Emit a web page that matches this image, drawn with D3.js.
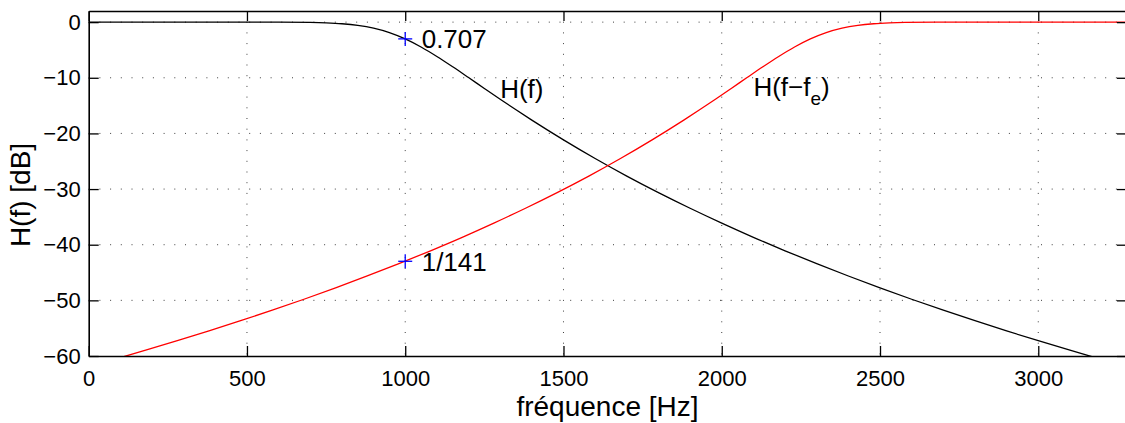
<!DOCTYPE html>
<html>
<head>
<meta charset="utf-8">
<script src="https://cdn.jsdelivr.net/npm/d3@7"></script>
<style>
html,body{margin:0;padding:0;background:#fff;overflow:hidden;}
svg{display:block;font-family:"Liberation Sans",Arial,Helvetica,sans-serif;}
</style>
</head>
<body>
<svg id="chart" width="1125" height="423"></svg>
<script>
// ---- data ----
const blackFreq = [0,100,200,300,400,500,600,700,750,800,850,900,950,1000,1050,1100,1150,1200,1250,1300,1350,1400,1450,1500,1600,1700,1800,1900,2000,2100,2200,2300,2400,2500,2600,2700,2800,2900,3000,3100,3200];
const blackDb = [0,0,0,0,0,-0.001,-0.009,-0.059,-0.135,-0.288,-0.577,-1.079,-1.876,-3.010,-4.466,-6.168,-8.028,-9.963,-11.92,-13.86,-15.76,-17.61,-19.41,-21.16,-24.51,-27.67,-30.64,-33.45,-36.12,-38.67,-41.09,-43.41,-45.62,-47.75,-49.80,-51.76,-53.66,-55.49,-57.25,-58.96,-60.62];
const redFreq = [80,180,280,380,480,580,680,780,880,980,1080,1180,1280,1380,1480,1580,1680,1780,1830,1880,1930,1980,2030,2080,2130,2180,2230,2280,2330,2380,2430,2480,2530,2580,2680,2780,2880,2980,3080,3180,3280];
const redDb = [-60.62,-58.96,-57.25,-55.49,-53.66,-51.76,-49.80,-47.75,-45.62,-43.41,-41.09,-38.67,-36.12,-33.45,-30.64,-27.67,-24.51,-21.16,-19.41,-17.61,-15.76,-13.86,-11.92,-9.963,-8.028,-6.168,-4.466,-3.010,-1.876,-1.079,-0.577,-0.288,-0.135,-0.059,-0.009,-0.001,0,0,0,0,0];
const xTicks = [0,500,1000,1500,2000,2500,3000];
const yTicks = [0,-10,-20,-30,-40,-50,-60];
const markerPoints = [[1000,-3.01],[1000,-42.98]];
const markerLabels = ["0.707","1/141"];
const curveLabels = [{f:1300,db:-12,t:"H(f)",sub:null},{f:2100,db:-11.6,t:"H(f\u2212f",sub:"e"}];
const xLabel = "fréquence [Hz]";
const yLabel = "H(f) [dB]";
const xDomain = [0,3280];
const yDomain = [-60,2];

// ---- layout ----
const svg = d3.select("#chart");
const mLeft = 88.7, mTop = 11, plotW = 1038.2, plotH = 345;
const x = d3.scaleLinear().domain(xDomain).range([mLeft, mLeft+plotW]);
const y = d3.scaleLinear().domain(yDomain).range([mTop+plotH, mTop]);

svg.append("defs").append("clipPath").attr("id","clip")
  .append("rect").attr("x",mLeft).attr("y",mTop).attr("width",plotW).attr("height",plotH);

// grid
const grid = svg.append("g").attr("stroke","#000").attr("stroke-width",1)
  .attr("stroke-dasharray","1,9.7").attr("opacity",0.75);
xTicks.filter(d=>d>0).forEach(d=>{
  grid.append("line").attr("x1",x(d)).attr("x2",x(d)).attr("y1",mTop).attr("y2",mTop+plotH);
});
yTicks.filter(d=>d>-60).forEach(d=>{
  grid.append("line").attr("x1",mLeft).attr("x2",mLeft+plotW).attr("y1",y(d)).attr("y2",y(d));
});

// curves
const line = d3.line().x(d=>x(d[0])).y(d=>y(d[1])).curve(d3.curveMonotoneX);
const g = svg.append("g").attr("clip-path","url(#clip)");
g.append("path").datum(blackFreq.map((f,i)=>[f,blackDb[i]]))
  .attr("d",line).attr("fill","none").attr("stroke","#000").attr("stroke-width",1.3);
g.append("path").datum(redFreq.map((f,i)=>[f,redDb[i]]))
  .attr("d",line).attr("fill","none").attr("stroke","#ff0000").attr("stroke-width",1.3);

// axes (MATLAB style, ticks inward)
const fmt = d3.format("");
const xAxisB = d3.axisBottom(x).tickValues(xTicks).tickSizeInner(-10).tickSizeOuter(0).tickPadding(14).tickFormat(fmt);
const xAxisT = d3.axisTop(x).tickValues(xTicks).tickSizeInner(-10).tickSizeOuter(0).tickFormat("");
const yAxisL = d3.axisLeft(y).tickValues(yTicks).tickSizeInner(-10).tickSizeOuter(0).tickPadding(8).tickFormat(fmt);
const yAxisR = d3.axisRight(y).tickValues(yTicks).tickSizeInner(-10).tickSizeOuter(0).tickFormat("");

function styleAxis(sel){
  sel.selectAll("path").attr("stroke","#000").attr("stroke-width",1.6);
  sel.selectAll("line").attr("stroke","#000").attr("stroke-width",1.3);
  sel.selectAll("text").attr("fill","#000").style("font-size","22px")
    .style("font-family","'Liberation Sans',Arial,sans-serif");
}
svg.append("g").attr("transform",`translate(0,${mTop+plotH})`).call(xAxisB).call(styleAxis);
svg.append("g").attr("transform",`translate(0,${mTop})`).call(xAxisT).call(styleAxis);
svg.append("g").attr("transform",`translate(${mLeft},0)`).call(yAxisL).call(styleAxis);
svg.append("g").attr("transform",`translate(${mLeft+plotW},0)`).call(yAxisR).call(styleAxis);

// markers
const mk = svg.append("g").attr("stroke","#0000ff").attr("stroke-width",1.3);
markerPoints.forEach(p=>{
  const cx = x(p[0]), cy = y(p[1]);
  mk.append("line").attr("x1",cx-7).attr("x2",cx+7).attr("y1",cy).attr("y2",cy);
  mk.append("line").attr("x1",cx).attr("x2",cx).attr("y1",cy-7).attr("y2",cy+7);
});
markerPoints.forEach((p,i)=>{
  svg.append("text").attr("x",x(p[0]+52)).attr("y",y(p[1])).attr("dy","0.36em")
    .style("font-size","26px").text(markerLabels[i]);
});

// curve labels
curveLabels.forEach(c=>{
  const t = svg.append("text").attr("x",x(c.f)).attr("y",y(c.db)).attr("dy","0.36em")
    .style("font-size","26px");
  t.append("tspan").text(c.t);
  if(c.sub){
    t.append("tspan").attr("dy","0.45em").style("font-size","19px").text(c.sub);
    t.append("tspan").attr("dy","-0.33em").style("font-size","26px").text(")");
  }
});

// axis labels
svg.append("text").attr("x",607.5).attr("y",416).attr("text-anchor","middle")
  .style("font-size","28px").text(xLabel);
svg.append("text").attr("transform",`translate(30,195) rotate(-90)`)
  .attr("text-anchor","middle").style("font-size","28px").text(yLabel);
</script>
</body>
</html>
